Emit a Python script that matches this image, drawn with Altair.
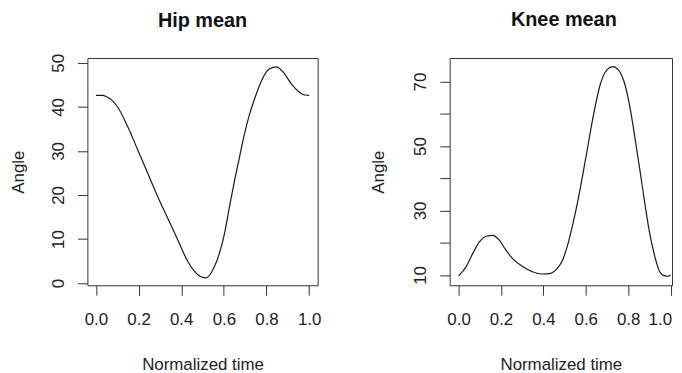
import altair as alt
import pandas as pd

# Hip mean curve
hip_t = [0.0, 0.03, 0.05, 0.073, 0.104, 0.151, 0.198, 0.244, 0.291, 0.338, 0.384,
         0.431, 0.478, 0.50, 0.517, 0.54, 0.556, 0.579, 0.603, 0.626, 0.650, 0.673,
         0.696, 0.72, 0.751, 0.782, 0.813, 0.847, 0.883, 0.914, 0.953, 0.98, 1.0]
hip_angle = [42.6, 42.6, 42.3, 41.6, 39.8, 35.3, 30.0, 24.8, 19.5, 14.6, 9.8,
             4.9, 1.9, 1.3, 1.2, 2.3, 3.75, 6.75, 11.25, 17.25, 23.25, 28.5,
             33.75, 38.25, 42.75, 46.5, 48.6, 49.1, 47.6, 45.4, 43.4, 42.7, 42.6]

# Knee mean curve
knee_t = [0.0, 0.036, 0.067, 0.098, 0.130, 0.161, 0.192, 0.223, 0.255, 0.302, 0.348,
          0.395, 0.434, 0.466, 0.49, 0.512, 0.543, 0.575, 0.606, 0.637, 0.668, 0.700,
          0.728, 0.754, 0.785, 0.809, 0.832, 0.856, 0.879, 0.902, 0.926, 0.949, 0.972,
          0.99, 1.0]
knee_angle = [9.7, 12.6, 16.7, 20.3, 22.0, 22.3, 20.8, 17.7, 15.1, 12.6, 11.0,
              10.3, 10.5, 12.1, 14.5, 18.7, 26.9, 37.2, 48.5, 59.8, 69.0, 73.6,
              74.6, 73.6, 69.0, 61.8, 52.6, 42.3, 32.1, 22.8, 15.7, 11.0, 9.7,
              9.6, 10.0]

x_ticks = [0.0, 0.2, 0.4, 0.6, 0.8, 1.0]
hip_y_ticks = [0, 10, 20, 30, 40, 50]
knee_y_ticks = [10, 20, 30, 40, 50, 60, 70]

FONT = "Liberation Sans"
TXT = "#222222"
LINE = "#333333"

hip_df = pd.DataFrame({"t": hip_t, "angle": hip_angle})
knee_df = pd.DataFrame({"t": knee_t, "angle": knee_angle})


def x_axis(last_right=False):
    kw = dict(values=x_ticks, format=".1f", title="Normalized time",
              grid=False, domain=False, tickSize=10, tickColor=LINE,
              labelFontSize=17, labelColor=TXT, labelFont=FONT,
              labelPadding=17, titleFontSize=17, titleFont=FONT,
              titleColor=TXT, titleFontWeight="normal", titlePadding=29,
              labelFlush=False, labelOverlap=False)
    if last_right:
        kw["labelAlign"] = {"condition": {"test": "datum.value == 1", "value": "right"},
                            "value": "center"}
        kw["labelOffset"] = {"condition": {"test": "datum.value == 1", "value": 1},
                             "value": 0}
    return alt.Axis(**kw)


def y_axis(values, title_pad, label_expr=None):
    kw = dict(values=values, title="Angle", grid=False, domain=False,
              tickSize=10, tickColor=LINE, labelFontSize=17, labelColor=TXT,
              labelFont=FONT, labelAngle=270, labelAlign="center",
              labelBaseline="alphabetic", labelPadding=14, titleFontSize=17,
              titleFont=FONT, titleColor=TXT, titleFontWeight="normal",
              titlePadding=title_pad, labelOverlap=False, labelFlush=False)
    if label_expr:
        kw["labelExpr"] = label_expr
    return alt.Axis(**kw)


def panel(df, title, xdom, width, ydom, yvals, offset, title_pad, dx=0,
          label_expr=None, last_right=False):
    return alt.Chart(df).mark_line(color="#1a1a1a", strokeWidth=1.2,
                                   interpolate="monotone").encode(
        x=alt.X("t:Q", scale=alt.Scale(domain=xdom, nice=False, zero=False),
                axis=x_axis(last_right)),
        y=alt.Y("angle:Q", scale=alt.Scale(domain=ydom, nice=False, zero=False),
                axis=y_axis(yvals, title_pad, label_expr)),
    ).properties(
        width=width, height=229,
        title=alt.Title(title, fontSize=20, fontWeight="bold", font=FONT,
                        color="#111111", anchor="middle", frame="group",
                        baseline="alphabetic", offset=offset, dx=dx),
    )


hip = panel(hip_df, "Hip mean", [-0.04, 1.04], 232, [-0.5, 51.1], hip_y_ticks, 7, 22)
knee = panel(knee_df, "Knee mean", [-0.042, 1.007], 224, [6.8, 77.3], knee_y_ticks, 12, 25,
             dx=3, label_expr="datum.value % 20 == 10 ? datum.label : ''",
             last_right=True)

chart = alt.hconcat(hip, knee, spacing=47).properties(
    padding={"left": 1, "top": 0, "right": 0, "bottom": 0},
    background="white",
).configure_view(stroke="#333333", strokeWidth=1)

chart.save("out.html", embed_options={"renderer": "svg", "actions": False})
